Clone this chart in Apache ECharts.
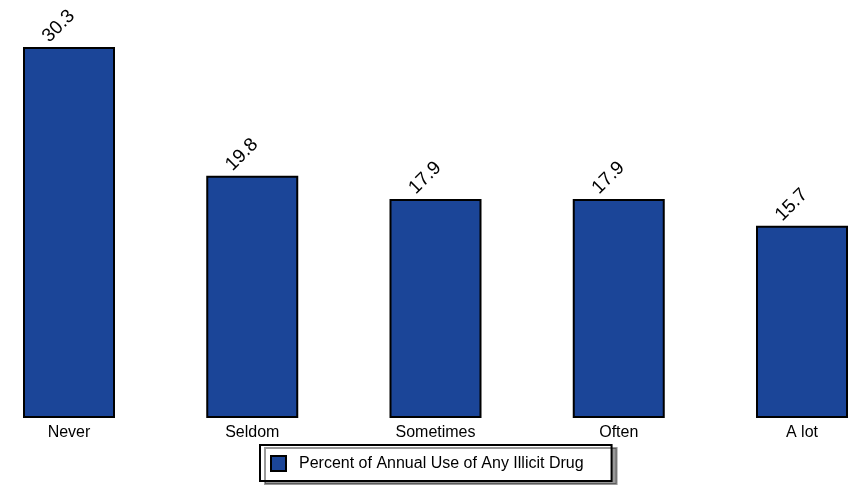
<!DOCTYPE html>
<html><head><meta charset="utf-8">
<script src="https://cdn.jsdelivr.net/npm/echarts@6/dist/echarts.min.js"></script>
<style>html,body{margin:0;padding:0;background:#fff}#c{width:852px;height:485px}</style>
</head><body><div id="c"></div>
<script>
var categories = ['Never', 'Seldom', 'Sometimes', 'Often', 'A lot'];
var values = [30.3, 19.8, 17.9, 17.9, 15.7];
var seriesName = 'Percent of Annual Use of Any Illicit Drug';

var chart = echarts.init(document.getElementById('c'));
chart.setOption({
  animation: false,
  textStyle: { fontFamily: 'Liberation Sans, Arial, sans-serif' },
  grid: { left: 69, right: 50, top: 26.3, bottom: 67 },
  xAxis: {
    type: 'category', data: categories, boundaryGap: false,
    axisLine: { show: false }, axisTick: { show: false },
    axisLabel: { color: '#000', fontSize: 16, margin: 7 }
  },
  yAxis: {
    type: 'value', min: 0, max: 32, show: false, splitLine: { show: false }
  },
  legend: {
    top: 445, left: 260,
    data: [seriesName],
    itemWidth: 15, itemHeight: 15,
    padding: [10, 28, 9, 10],
    borderColor: '#000', borderWidth: 2, backgroundColor: '#fff',
    shadowColor: 'rgba(0,0,0,0.4)', shadowOffsetX: 5, shadowOffsetY: 3, shadowBlur: 0,
    textStyle: { color: '#000', fontSize: 16, padding: [0, 0, 0, 8] },
    icon: 'rect'
  },
  series: [{
    name: seriesName, type: 'bar', data: values, barWidth: 92,
    itemStyle: { color: '#1b4598', borderColor: '#000', borderWidth: 2 },
    label: {
      show: true, position: 'top', rotate: 45, distance: 5,
      color: '#000', fontSize: 19, offset: [4, -9]
    }
  }]
});
</script></body></html>
